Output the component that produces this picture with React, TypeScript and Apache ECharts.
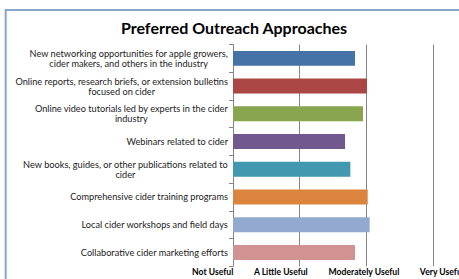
import React, { useEffect, useRef } from "react";
import * as echarts from "echarts";

const titleText = "Preferred Outreach Approaches";
const categories = [
  "New networking opportunities for apple growers,\ncider makers, and others in the industry",
  "Online reports, research briefs, or extension bulletins\nfocused on cider",
  "Online video tutorials led by experts in the cider\nindustry",
  "Webinars related to cider",
  "New books, guides, or other publications related to\ncider",
  "Comprehensive cider training programs",
  "Local cider workshops and field days",
  "Collaborative cider marketing efforts",
];
const values = [2.83, 3.01, 2.95, 2.68, 2.76, 3.02, 3.05, 2.83];
const barColors = ["#4572A7", "#AA4643", "#89A54E", "#71588F", "#4198AF", "#DB843D", "#93A9CF", "#D19392"];
const scaleLabels = ["Not Useful", "A Little Useful", "Moderately Useful", "Very Useful"];

const FONT = "Lato, 'Liberation Sans', sans-serif";

export default function App() {
  const ref = useRef<HTMLDivElement>(null);
  useEffect(() => {
    if (!ref.current) return;
    const chart = echarts.init(ref.current, null, { renderer: "svg" });
    const gap = "\u00A0".repeat(10);
    chart.setOption({
      animation: false,
      backgroundColor: "#ffffff",
      title: {
        text: titleText,
        left: 234,
        top: 19,
        textAlign: "center",
        padding: 0,
        textStyle: { fontFamily: FONT, fontSize: 16, fontWeight: "bold", color: "#000000" },
      },
      graphic: [
        {
          type: "rect",
          shape: { x: 5.7, y: 10, width: 520, height: 320 },
          style: { fill: "none", stroke: "#86A6CC", lineWidth: 2 },
          silent: true,
        },
      ],
      grid: {
        left: 233,
        top: 44.5,
        right: 26,
        bottom: 12.7,
        containLabel: false,
        outerBoundsMode: "none",
      },
      xAxis: {
        type: "value",
        min: 1,
        max: 4,
        interval: 1,
        axisLine: { show: false },
        axisTick: { show: false },
        axisLabel: { show: false },
        splitLine: { show: true, lineStyle: { color: "#868686", width: 1 } },
        name: scaleLabels.join(gap),
        nameLocation: "middle",
        nameGap: 1,
        nameTextStyle: {
          fontFamily: FONT,
          fontSize: 8.6,
          fontWeight: "bold",
          color: "#000000",
          padding: [0, 10, 0, 0],
        },
      },
      yAxis: {
        type: "category",
        data: categories,
        inverse: true,
        axisLine: { show: true, lineStyle: { color: "#868686", width: 1 } },
        axisTick: { show: true, length: 4, lineStyle: { color: "#868686" } },
        splitLine: { show: false },
        axisLabel: {
          interval: 0,
          margin: 5,
          formatter: (v: string) =>
            v
              .split("\n")
              .map((l) => "{c|" + l + "}")
              .join("\n"),
          rich: {
            c: { align: "center", fontFamily: FONT, fontSize: 9.2, lineHeight: 10, color: "#222222" },
          },
        },
      },
      series: [
        {
          type: "bar",
          data: values.map((v, i) => ({ value: v, itemStyle: { color: barColors[i] } })),
          barCategoryGap: "46%",
        },
      ],
    });
    return () => chart.dispose();
  }, []);
  return (
    <div
      ref={ref}
      style={{ position: "fixed", left: 0, top: 0, width: 459, height: 279 }}
    />
  );
}
